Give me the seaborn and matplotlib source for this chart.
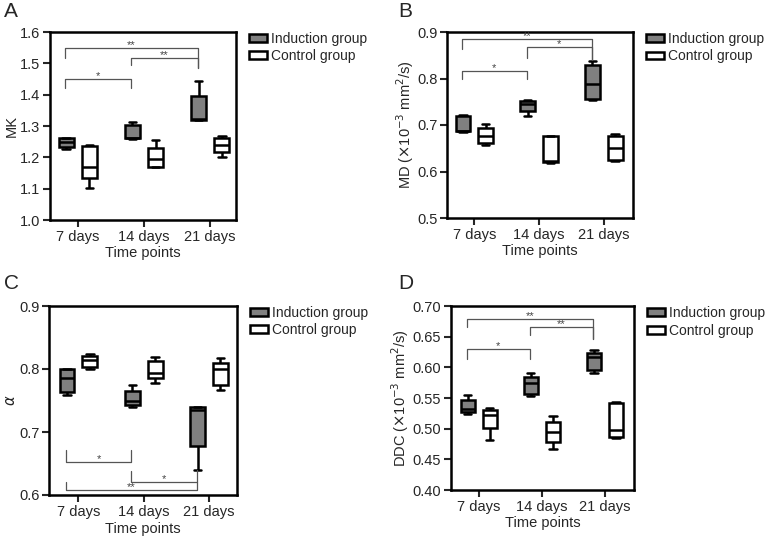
import numpy as np
import pandas as pd
import matplotlib
matplotlib.use('Agg')
import matplotlib.pyplot as plt
import seaborn as sns
from matplotlib.patches import Patch

times = ['7 days', '14 days', '21 days']
groups = ['Induction group', 'Control group']

# five-number summaries per box (min, q1, median, q3, max)
mk_induction = [[1.227, 1.234, 1.250, 1.261, 1.262], [1.258, 1.261, 1.263, 1.303, 1.314], [1.318, 1.319, 1.322, 1.397, 1.445]]
mk_control = [[1.103, 1.133, 1.170, 1.236, 1.240], [1.168, 1.170, 1.194, 1.229, 1.255], [1.200, 1.218, 1.239, 1.263, 1.267]]
md_induction = [[0.686, 0.687, 0.688, 0.720, 0.722], [0.719, 0.731, 0.745, 0.751, 0.753], [0.753, 0.756, 0.788, 0.828, 0.837]]
md_control = [[0.658, 0.661, 0.676, 0.694, 0.703], [0.618, 0.620, 0.622, 0.676, 0.676], [0.623, 0.625, 0.650, 0.677, 0.680]]
alpha_induction = [[0.759, 0.764, 0.785, 0.800, 0.800], [0.739, 0.743, 0.750, 0.765, 0.775], [0.640, 0.677, 0.735, 0.740, 0.740]]
alpha_control = [[0.800, 0.803, 0.814, 0.820, 0.824], [0.778, 0.786, 0.794, 0.813, 0.819], [0.767, 0.775, 0.800, 0.809, 0.818]]
ddc_induction = [[0.524, 0.527, 0.532, 0.547, 0.555], [0.553, 0.556, 0.574, 0.585, 0.590], [0.591, 0.596, 0.617, 0.623, 0.628]]
ddc_control = [[0.482, 0.501, 0.522, 0.530, 0.533], [0.467, 0.479, 0.495, 0.511, 0.521], [0.485, 0.487, 0.498, 0.542, 0.543]]

# significance brackets: (from, to, bar y, left tip y, right tip y, label)
mk_brackets = [(0, 2, 1.55, 1.516, 1.484, '**'), (1, 2, 1.518, 1.495, 1.484, '**'), (0, 1, 1.45, 1.42, 1.42, '*')]
md_brackets = [(0, 2, 0.885, 0.863, 0.840, '**'), (1, 2, 0.867, 0.844, 0.840, '*'), (0, 1, 0.817, 0.800, 0.800, '*')]
alpha_brackets = [(0, 1, 0.652, 0.671, 0.671, '*'), (1, 2, 0.620, 0.638, 0.640, '*'), (0, 2, 0.608, 0.620, 0.620, '**')]
ddc_brackets = [(0, 2, 0.678, 0.665, 0.647, '**'), (1, 2, 0.665, 0.652, 0.647, '**'), (0, 1, 0.6295, 0.613, 0.613, '*')]

sns.set_style('white')
plt.rcParams['font.family'] = ['Liberation Sans', 'DejaVu Sans']

W, H = 772, 540
fig = plt.figure(figsize=(W / 100, H / 100), dpi=100)


def make_df(ind, ctl):
    rows = []
    for t, vals in zip(times, ind):
        rows += [(t, groups[0], v) for v in vals]
    for t, vals in zip(times, ctl):
        rows += [(t, groups[1], v) for v in vals]
    return pd.DataFrame(rows, columns=['time', 'group', 'value'])


def panel(box, letter, ind, ctl, brackets, ylim, yticks, fmt, ylabel, xlim, letter_xy):
    l, r, t, b = box
    ax = fig.add_axes([l / W, 1 - b / H, (r - l) / W, (b - t) / H])
    df = make_df(ind, ctl)
    lw = 1.8
    sns.boxplot(data=df, x='time', y='value', hue='group', order=times, hue_order=groups,
                palette={groups[0]: '#808080', groups[1]: 'white'}, width=0.7, gap=0.35,
                whis=(0, 100), linecolor='black', linewidth=lw, legend=False, ax=ax)
    for (i, j, yb, y1, y2, lab) in brackets:
        x1, x2 = i - 0.19, j - 0.19
        ax.plot([x1, x1, x2, x2], [y1, yb, yb, y2], color='#555555', lw=0.9)
        ax.annotate(lab, ((x1 + x2) / 2, yb), xytext=(0, -1.5), textcoords='offset points',
                    ha='center', va='bottom', fontsize=8, color='#444444', zorder=5)
    ax.set_ylim(*ylim)
    ax.set_xlim(*xlim)
    ax.set_yticks(yticks)
    ax.set_yticklabels([fmt.format(v) for v in yticks])
    ax.set_xlabel('Time points', fontsize=10.5, labelpad=2)
    ax.set_ylabel(ylabel, fontsize=10.5, labelpad=1)
    for s in ax.spines.values():
        s.set_linewidth(1.8)
        s.set_color('black')
    ax.tick_params(axis='both', direction='out', length=5, width=1.5, labelsize=10.5, pad=2,
                   bottom=True, left=True)
    handles = [Patch(facecolor='#808080', edgecolor='black', linewidth=1.8, label=groups[0]),
               Patch(facecolor='white', edgecolor='black', linewidth=1.8, label=groups[1])]
    ax.legend(handles=handles, frameon=False, loc='upper left', bbox_to_anchor=(1.04, 1.03),
              fontsize=10, handlelength=1.3, handleheight=0.5, handletextpad=0.3,
              labelspacing=0.25, borderaxespad=0)
    fig.text(letter_xy[0] / W, 1 - letter_xy[1] / H, letter, fontsize=15, ha='left', va='top')
    return ax


panel((50, 236, 32, 220), 'A', mk_induction, mk_control, mk_brackets, (1.0, 1.6),
      np.round(np.arange(1.0, 1.61, 0.1), 2), '{:.1f}', 'MK', (-0.42, 2.39), (4, 2))
panel((447, 633, 32, 218), 'B', md_induction, md_control, md_brackets, (0.5, 0.9),
      np.round(np.arange(0.5, 0.91, 0.1), 2), '{:.1f}', r'MD ($\times$10$^{-3}$ mm$^2$/s)',
      (-0.42, 2.45), (398, 2))
panel((49, 237, 306, 495), 'C', alpha_induction, alpha_control, alpha_brackets, (0.6, 0.9),
      np.round(np.arange(0.6, 0.91, 0.1), 2), '{:.1f}', r'$\alpha$', (-0.45, 2.43), (4, 274))
panel((451, 634, 306, 490), 'D', ddc_induction, ddc_control, ddc_brackets, (0.40, 0.70),
      np.round(np.arange(0.40, 0.701, 0.05), 2), '{:.2f}', r'DDC ($\times$10$^{-3}$ mm$^2$/s)',
      (-0.44, 2.46), (398, 274))

fig.savefig('out.png', dpi=100)
